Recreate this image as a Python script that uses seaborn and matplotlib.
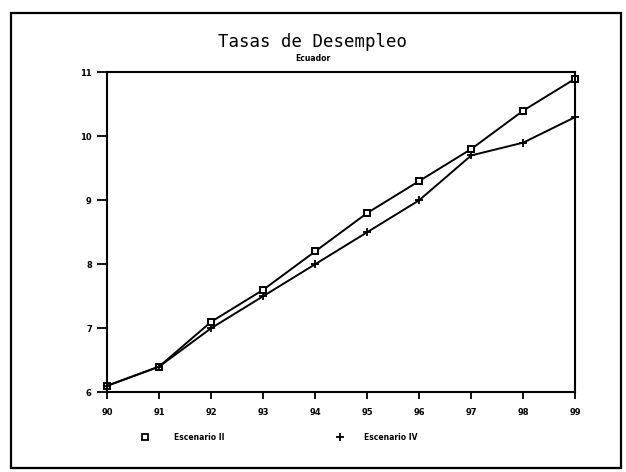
import pandas as pd
import numpy as np
import matplotlib
matplotlib.use('Agg')
import matplotlib.pyplot as plt
from matplotlib.patches import Rectangle
from matplotlib.lines import Line2D
import seaborn as sns

# === DATOS ===
anios = [90, 91, 92, 93, 94, 95, 96, 97, 98, 99]
esc_ii = [6.1, 6.4, 7.1, 7.6, 8.2, 8.8, 9.3, 9.8, 10.4, 10.9]
esc_iv = [6.1, 6.4, 7.0, 7.5, 8.0, 8.5, 9.0, 9.7, 9.9, 10.3]
y_ticks = [6, 7, 8, 9, 10, 11]

sns.set_style('ticks')
plt.rcParams['font.family'] = ['DejaVu Sans']
plt.rcParams['text.color'] = 'black'

fig = plt.figure(figsize=(6.26, 4.72), dpi=100)
ax = fig.add_axes([0.171, 0.169, 0.748, 0.678])

sns.lineplot(x=anios, y=esc_ii, ax=ax, color='black', lw=1.4, marker='s',
             markersize=5, markerfacecolor='white', markeredgecolor='black',
             markeredgewidth=1.4, clip_on=False)
sns.lineplot(x=anios, y=esc_iv, ax=ax, color='black', lw=1.4, marker='+',
             markersize=6, markeredgecolor='black', markeredgewidth=1.3, clip_on=False)

ax.set_xlim(90, 99)
ax.set_ylim(6, 11)
ax.set_xticks(anios)
ax.set_yticks(y_ticks)
ax.set_xticklabels([str(a) for a in anios], fontsize=6, fontweight='bold')
ax.set_yticklabels([str(v) for v in y_ticks], fontsize=6, fontweight='bold')
ax.tick_params(axis='both', which='major', length=0, pad=11, labelcolor='black')
# marcas de graduación hacia afuera
ax.vlines(anios, -0.022, 0, transform=ax.get_xaxis_transform(), colors='black',
          lw=1.3, clip_on=False)
ax.hlines(y_ticks, -0.022, 0, transform=ax.get_yaxis_transform(), colors='black',
          lw=1.3, clip_on=False)
ax.set_xlabel('')
ax.set_ylabel('')
for s in ax.spines.values():
    s.set_visible(True)
    s.set_color('black')
    s.set_linewidth(1.5)

# título
fig.text(0.5, 0.912, 'Tasas de Desempleo', ha='center', va='center',
         fontsize=12.5, family='DejaVu Sans Mono', color='black')
fig.text(0.5, 0.877, 'Ecuador', ha='center', va='center', fontsize=5.5,
         fontweight='bold', color='black')

# leyenda
fig.add_artist(Line2D([0.232], [0.074], marker='s', markersize=5, markerfacecolor='white',
                      markeredgecolor='black', markeredgewidth=1.3, transform=fig.transFigure))
fig.text(0.278, 0.074, 'Escenario II', ha='left', va='center', fontsize=5.5,
         fontweight='bold', color='black')
fig.add_artist(Line2D([0.543], [0.074], marker='+', markersize=6, color='black',
                      markeredgewidth=1.3, transform=fig.transFigure))
fig.text(0.582, 0.074, 'Escenario IV', ha='left', va='center', fontsize=5.5,
         fontweight='bold', color='black')

# marco
fig.add_artist(Rectangle((0.017, 0.008), 0.975, 0.965, transform=fig.transFigure,
                         fill=False, edgecolor='black', lw=1.6))

fig.savefig('out.png', dpi=100)
